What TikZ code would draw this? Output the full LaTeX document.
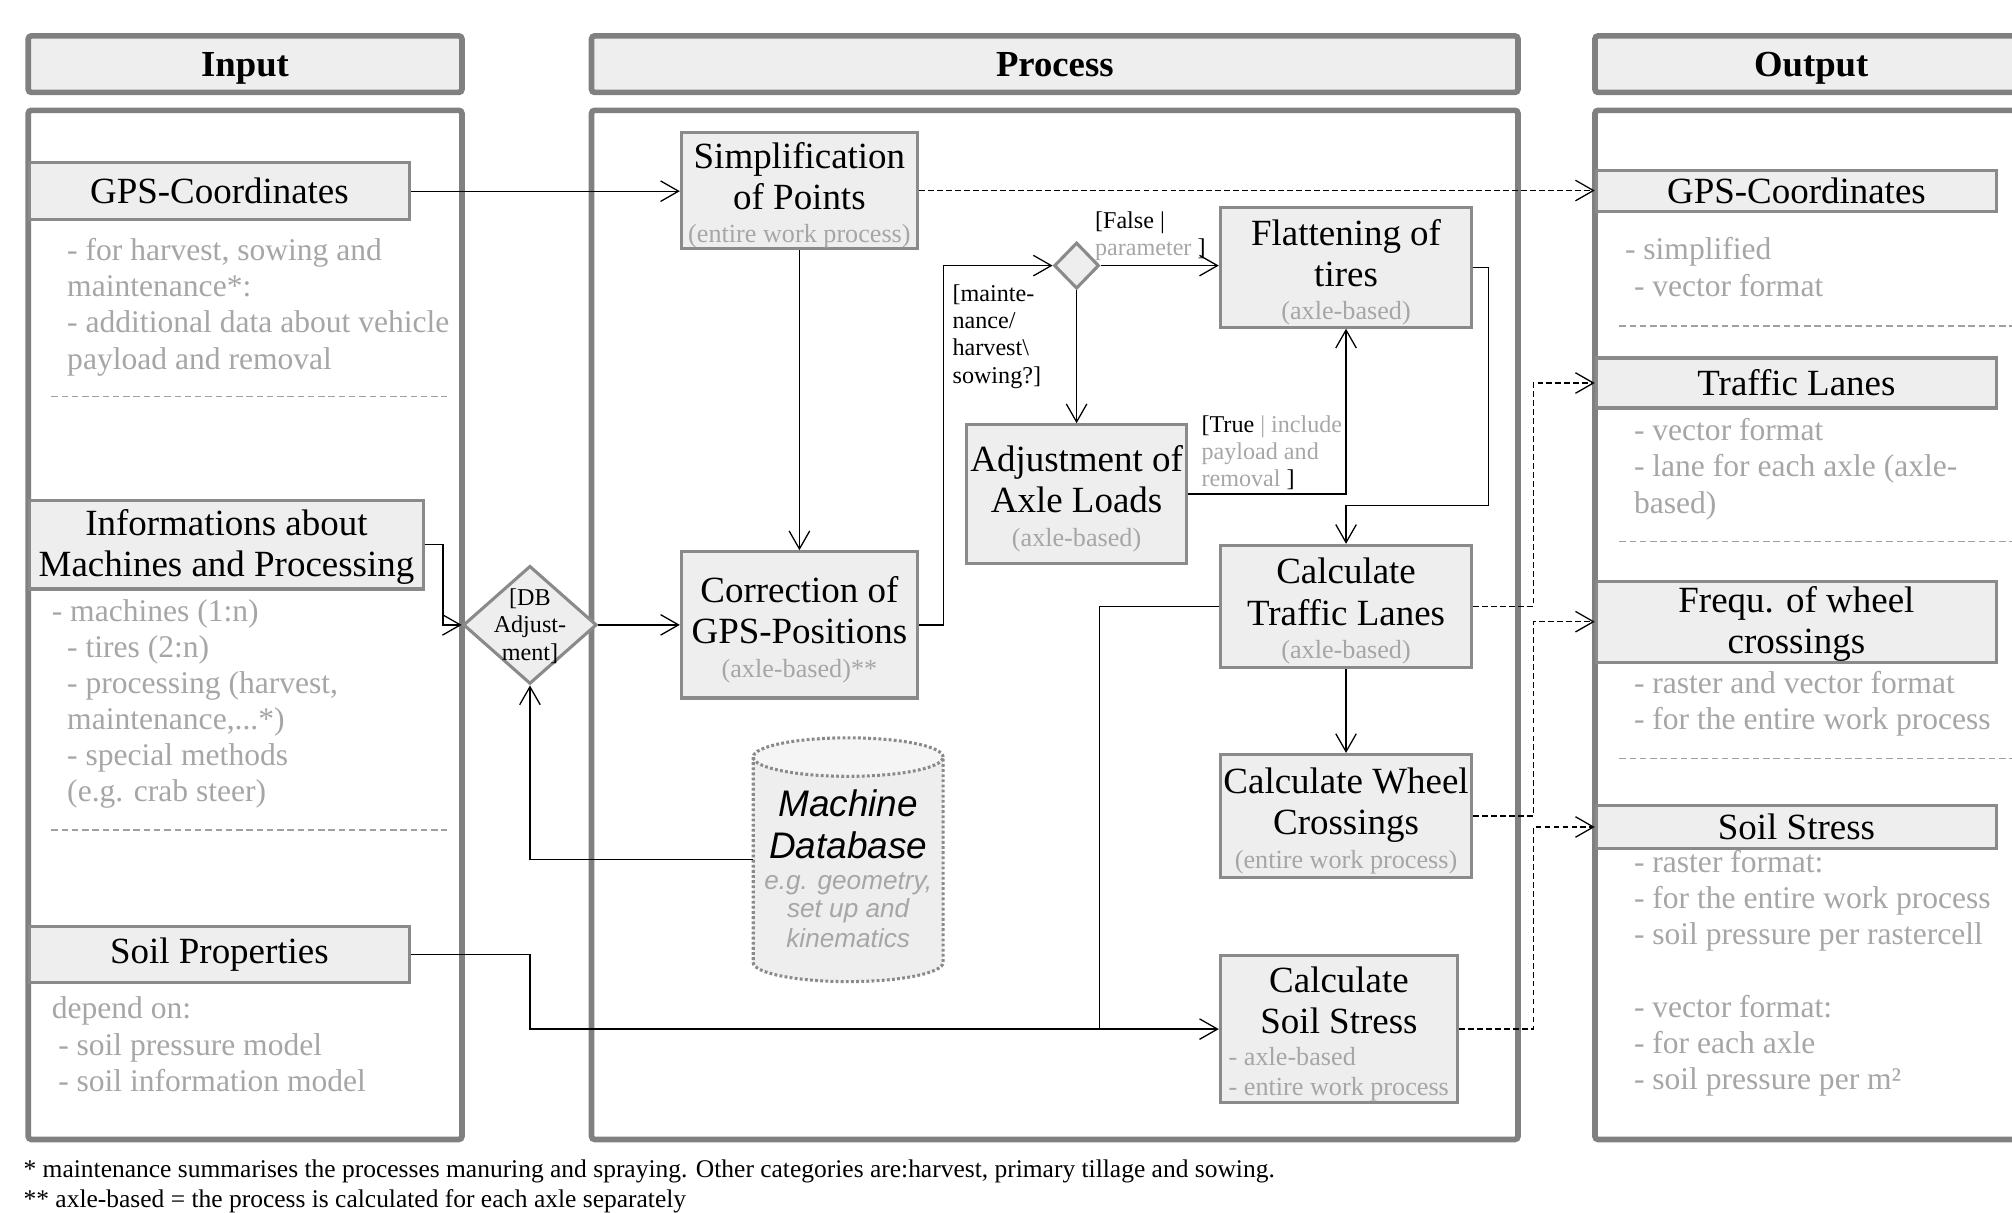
\documentclass[tikz,border=0pt]{standalone}
\usepackage{fontspec}
\setmainfont{Liberation Serif}
\newfontfamily\dbsans{Liberation Sans}
\usetikzlibrary{arrows.meta,shapes.geometric,calc}
\definecolor{panelgray}{HTML}{808080}
\definecolor{boxline}{HTML}{8A8A8A}
\definecolor{boxfill}{HTML}{EEEEEE}
\definecolor{topfill}{HTML}{F5F5F5}
\definecolor{txtgray}{HTML}{A6A6A6}
\definecolor{sepgray}{HTML}{A0A0A0}
\newcommand\ttlf{\fontsize{14.4}{16}\selectfont}
\newcommand\subf{\fontsize{10.2}{11.5}\selectfont\color{txtgray}}
\newcommand\infof{\fontsize{12.3}{14.1}\selectfont}
\newcommand\lblf{\fontsize{9.4}{10.6}\selectfont}
\newcommand\hdrf{\fontsize{14.3}{16}\selectfont\bfseries}
\newcommand\notef{\fontsize{9.93}{11.5}\selectfont}
\newcommand\tstrut{\rule{0pt}{13.8pt}}
\newcommand\dstrut{\rule{0pt}{12pt}}
\tikzset{
  panel/.style={draw=panelgray, line width=2.2pt, rounded corners=1.2pt},
  hdr/.style={panel, fill=boxfill, font=\hdrf, inner sep=0pt, text height=9.5pt, text depth=0pt},
  ibox/.style={draw=boxline, line width=1.2pt, fill=boxfill, inner sep=0pt, font=\ttlf, align=center},
  decision/.style={diamond, draw=boxline, line width=1.2pt, fill=boxfill, inner sep=0pt},
  flow/.style={-{Straight Barb[length=7pt,width=8pt]}, line width=0.5pt},
  dflow/.style={flow, dash pattern=on 2.3pt off 1.2pt},
  plain/.style={line width=0.5pt},
  infot/.style={anchor=base west, inner sep=0pt, align=left, font=\infof, text=txtgray},
  lbl/.style={anchor=base west, inner sep=0pt, align=left, font=\lblf},
  sep/.style={draw=sepgray, line width=0.6pt, dash pattern=on 2.5pt off 1.5pt},
  dbline/.style={draw=boxline, line width=1.2pt, dash pattern=on 1.1pt off 0.9pt},
}
\begin{document}
\begin{tikzpicture}[x=0.5pt, y=-0.5pt]
\useasboundingbox (0,0) rectangle (1568,945);
\clip (0,0) rectangle (1568,945);

% headers
\node[hdr, minimum width=169pt, minimum height=22pt] (hin) at (191,50) {Input};
\node[hdr, minimum width=361pt, minimum height=22pt] (hpro) at (822,50) {Process};
\node[hdr, minimum width=168.5pt, minimum height=22pt] (hout) at (1411.5,50) {Output};

% panels
\draw[panel] (22,86) rectangle (360,888);
\draw[panel] (461,86) rectangle (1183,888);
\draw[panel] (1243,86) rectangle (1580,888);

% separators
\draw[sep] (40,309) -- (348,309);
\draw[sep] (40,647) -- (348,647);
\draw[sep] (1262,254) -- (1580,254);
\draw[sep] (1262,422) -- (1580,422);
\draw[sep] (1262,591) -- (1580,591);

% machine database cylinder
\path[fill=boxfill] (587,590) -- (587,750) arc[start angle=180,end angle=360,x radius=37pt,y radius=7.5pt] -- (735,590) arc[start angle=0,end angle=180,x radius=37pt,y radius=7.5pt] -- cycle;
\fill[topfill] (661,590) ellipse [x radius=37pt, y radius=7.5pt];
\draw[dbline] (587,590) -- (587,750) arc[start angle=180,end angle=360,x radius=37pt,y radius=7.5pt] -- (735,590);
\draw[dbline] (661,590) ellipse [x radius=37pt, y radius=7.5pt];
\node[minimum width=74pt, minimum height=95pt, inner sep=0pt] (db) at (661,670) {};
\node[anchor=base, inner sep=0pt, align=center, font={\dbsans\itshape\fontsize{14.4}{16.5}\selectfont}] (dbtxt) at (661,738.4)
  {Machine\\Database\\[-4.5pt]{\fontsize{10.2}{11}\selectfont\color{txtgray}e.g. geometry,}\\[-5.3pt]{\fontsize{10.2}{11}\selectfont\color{txtgray}set up and}\\[-5pt]{\fontsize{10.2}{11}\selectfont\color{txtgray}kinematics}};

% input boxes
\node[ibox, minimum width=148pt, minimum height=22pt] (gpsin) at (171,149) {GPS-Coordinates};
\node[ibox, minimum width=153.5pt, minimum height=34.5pt] (infoin) at (176.5,424.5) {\dstrut Informations about\\Machines and Processing};
\node[ibox, minimum width=148pt, minimum height=22pt] (soilin) at (171,744) {Soil Properties};

% process boxes
\node[ibox, minimum width=92pt, minimum height=45.5pt] (simp) at (623,148.5) {\tstrut Simplification\\of Points\\[-3pt]{\subf (entire work process)}};
\node[ibox, minimum width=92pt, minimum height=57pt] (corr) at (623,487) {\tstrut Correction of\\GPS-Positions\\[-3pt]{\subf (axle-based)**}};
\node[ibox, minimum width=98pt, minimum height=46.5pt] (flat) at (1049,208.5) {\tstrut Flattening of\\tires\\[-3pt]{\subf (axle-based)}};
\node[ibox, minimum width=86pt, minimum height=54pt] (axle) at (839,385) {\tstrut Adjustment of\\Axle Loads\\[-3pt]{\subf (axle-based)}};
\node[ibox, minimum width=98pt, minimum height=47.5pt] (lanes) at (1049,472.5) {\tstrut Calculate\\Traffic Lanes\\[-3pt]{\subf (axle-based)}};
\node[ibox, minimum width=98pt, minimum height=48pt] (wheel) at (1049,636) {\tstrut Calculate Wheel\\Crossings\\[-3pt]{\subf (entire work process)}};
\node[ibox, minimum width=92.5pt, minimum height=57pt, align=left] (stress) at (1043.5,802)
  {\tstrut\makebox[86pt]{Calculate}\\\makebox[86pt]{Soil Stress}\\[-3.5pt]{\subf - axle-based}\\[-4.5pt]{\subf - entire work process}};

% decisions
\node[decision, minimum width=52pt, minimum height=46pt] (dbadj) at (413,487) {};
\node[align=center, inner sep=0pt, font=\lblf] (dbadjtxt) at (413,488) {[DB\\Adjust-\\ment]};
\node[decision, minimum width=17.5pt, minimum height=18pt] (decn) at (839,207) {};

% output boxes
\node[ibox, minimum width=156pt, minimum height=16pt] (gpsout) at (1400,149) {GPS-Coordinates};
\node[ibox, minimum width=156pt, minimum height=19.5pt] (laneout) at (1400,298.5) {Traffic Lanes};
\node[ibox, minimum width=156pt, minimum height=31.5pt] (freqout) at (1400,484.5) {\dstrut Frequ. of wheel\\crossings};
\node[ibox, minimum width=156pt, minimum height=16.5pt] (soilout) at (1400,644.5) {Soil Stress};

% connectors
\draw[flow] (gpsin.east) -- (gpsin.east -| simp.west);
\draw[dflow] (simp.east) -- (simp.east -| gpsout.west);
\draw[flow] (simp.south) -- (corr.north);
\draw[flow] (infoin.east) -- ++(14,0) |- (dbadj.west);
\draw[flow] (dbadj.east) -- (corr.west);
\draw[flow] (db.west) -| (dbadj.south);
\draw[flow] (corr.east) -- ++(19,0) |- (decn.west);
\draw[flow] (decn.east) -- (decn.east -| flat.west);
\draw[flow] (decn.south) -- (axle.north);
\draw[flow] (axle.east) -| (flat.south);
\draw[flow] (flat.east) -- ++(12,0) |- ($(lanes.north)+(0,-30)$) -- (lanes.north);
\draw[flow] (lanes.south) -- (wheel.north);
\coordinate (join) at (857,802);
\draw[plain] (lanes.west) -| (join);
\draw[flow] (soilin.east) -| (dbadj.south |- stress.west) -- (stress.west);
\coordinate (bus) at (1195,0);
\draw[dflow] (lanes.east) -- (lanes.east -| bus) |- (laneout.west);
\draw[dflow] (wheel.east) -- (wheel.east -| bus) |- (freqout.west);
\draw[dflow] (stress.east) -- (stress.east -| bus) |- (soilout.west);

% labels (anchored at the baseline of their last line)
\node[lbl] (lblmaint) at (742,298.6) {[mainte-\\nance/\\harvest\textbackslash\\sowing?]};
\node[lbl] (lblfalse) at (853,199.2) {[False |\\{\color{txtgray}parameter} ]};
\node[lbl] (lbltrue) at (936,379.4) {[True {\color{txtgray}| include}\\{\color{txtgray}payload and}\\{\color{txtgray}removal} ]};

% info texts (anchored at the baseline of their last line)
\node[infot] (tgpsin) at (52,287.6) {- for harvest, sowing and\\maintenance*:\\- additional data about vehicle\\payload and removal};
\node[infot] (tinfoin) at (40,625) {- machines (1:n)\\\hspace*{6pt}- tires (2:n)\\\hspace*{6pt}- processing (harvest,\\\hspace*{6pt}maintenance,...*)\\\hspace*{6pt}- special methods\\\hspace*{6pt}(e.g. crab steer)};
\node[infot] (tsoilin) at (40,850.4) {depend on:\\\hspace*{2.5pt}- soil pressure model\\\hspace*{2.5pt}- soil information model};
\node[infot] (tgpsout) at (1266,230.7) {- simplified\\\hspace*{3.5pt}- vector format};
\node[infot] (tlaneout) at (1273,399.9) {- vector format\\- lane for each axle (axle-\\based)};
\node[infot] (tfreqout) at (1273,568.7) {- raster and vector format\\- for the entire work process};
\node[infot] (tsoilout) at (1273,849.2) {- raster format:\\- for the entire work process\\- soil pressure per rastercell\\[14.1pt]- vector format:\\- for each axle\\- soil pressure per m²};

% footnotes
\node[anchor=base west, inner sep=0pt, font=\notef] (fn1) at (18,918) {* maintenance summarises the processes manuring and spraying. Other categories are:harvest, primary tillage and sowing.};
\node[anchor=base west, inner sep=0pt, font=\notef] (fn2) at (18,941) {** axle-based = the process is calculated for each axle separately};
\end{tikzpicture}
\end{document}
